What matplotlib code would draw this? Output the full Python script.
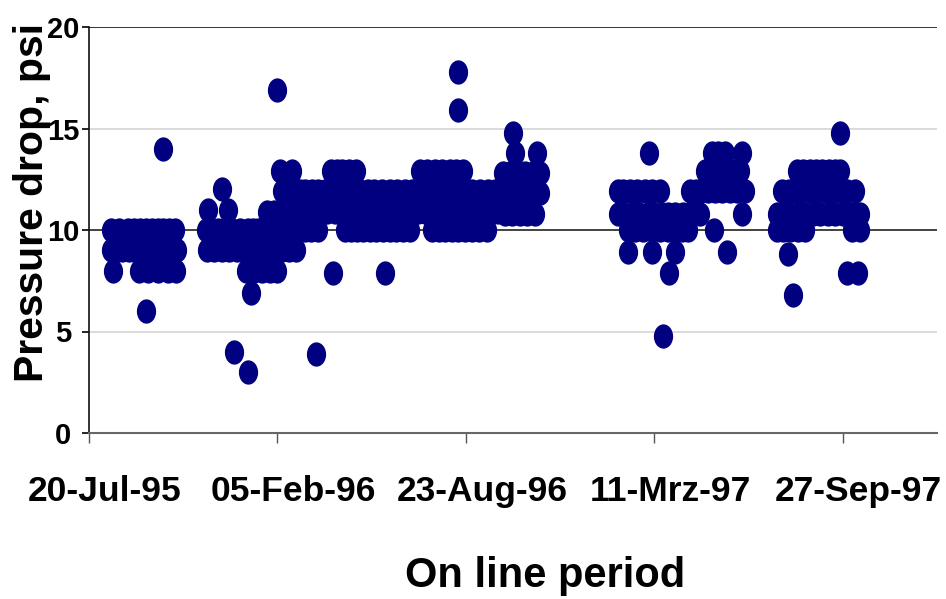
import numpy as np
import matplotlib
matplotlib.use('Agg')
import matplotlib.pyplot as plt
import matplotlib.transforms as mtransforms
from matplotlib.path import Path

# ---------------- data ----------------
start_date = np.datetime64('1995-07-20')
end_date = np.datetime64('1998-01-05')

# on-line days counted from 20-Jul-95, and pressure drop in psi
run1_days = [23, 32, 41, 48, 54, 60, 67, 73, 79, 85, 91,
             23, 29, 35, 42, 48, 54, 60, 67, 73, 79, 86, 93,
             25, 53, 63, 73, 84, 92,
             79, 60]
run1_psi = [10, 10, 10, 10, 10, 10, 10, 10, 10, 10, 10,
            9, 9, 9, 9, 9, 9, 9, 9, 9, 9, 9, 9,
            8, 8, 8, 8, 8, 8,
            14, 6]

run2_days = [203, 215,
             141, 205, 213, 220, 224,
             126, 147, 189, 196, 203, 211, 219,
             124, 130, 137, 144, 152, 160, 169, 174, 179, 186, 192, 200, 208, 215, 222,
             125, 133, 141, 149, 157, 165, 173, 181, 189, 197, 205, 212, 220,
             167, 175, 184, 192, 199,
             172, 154, 169, 199, 241, 259, 314, 392, 392,
             257, 263, 269, 276, 283, 351, 359, 367, 375, 383, 390, 397,
             229, 237, 243, 250, 256, 264, 272, 280, 288, 296, 303, 311, 319, 327,
             335, 343, 351, 359, 367, 375, 383, 391, 399, 407, 415, 423, 431,
             229, 237, 245, 253, 261, 269, 277, 285, 293, 301, 309, 317, 325, 333,
             341, 349, 357, 364, 372, 380, 388, 396, 404, 412, 420, 427, 434,
             229, 236, 243, 272, 278, 284, 291, 298, 305, 312, 319, 326, 333, 341,
             364, 371, 378, 385, 392, 399, 406, 414, 422,
             450, 452, 475,
             439, 447, 455, 463, 471, 479,
             436, 444, 452, 460, 468, 479,
             441, 449, 457, 465, 473]
run2_psi = [12.9, 12.9,
            12, 11.9, 11.9, 11.9, 11.9,
            11, 11, 10.9, 10.9, 10.9, 10.9, 10.9,
            10, 10, 10, 10, 10, 10, 10, 10, 10, 10, 10, 10, 10, 10, 10,
            9, 9, 9, 9, 9, 9, 9, 9, 9, 9, 9, 9, 9,
            8, 8, 8, 8, 8,
            6.9, 4, 3, 16.9, 3.9, 7.9, 7.9, 15.9, 17.8,
            12.9, 12.9, 12.9, 12.9, 12.9, 12.9, 12.9, 12.9, 12.9, 12.9, 12.9, 12.9,
            11.9, 11.9, 11.9, 11.9, 11.9, 11.9, 11.9, 11.9, 11.9, 11.9, 11.9, 11.9, 11.9, 11.9,
            11.9, 11.9, 11.9, 11.9, 11.9, 11.9, 11.9, 11.9, 11.9, 11.9, 11.9, 11.9, 11.9,
            10.9, 10.9, 10.9, 10.9, 10.9, 10.9, 10.9, 10.9, 10.9, 10.9, 10.9, 10.9, 10.9, 10.9,
            10.9, 10.9, 10.9, 10.9, 10.9, 10.9, 10.9, 10.9, 10.9, 10.9, 10.9, 10.9, 10.9,
            10, 10, 10, 10, 10, 10, 10, 10, 10, 10, 10, 10, 10, 10,
            10, 10, 10, 10, 10, 10, 10, 10, 10,
            14.8, 13.8, 13.8,
            12.8, 12.8, 12.8, 12.8, 12.8, 12.8,
            11.8, 11.8, 11.8, 11.8, 11.8, 11.8,
            10.8, 10.8, 10.8, 10.8, 10.8]

run3_days = [594, 661, 668, 675, 693,
             654, 661, 667, 674, 680, 686, 691,
             561, 567, 574, 582, 590, 598, 606, 638, 644, 650, 657, 664, 672, 680, 688, 696,
             561, 568, 576, 584, 593, 600, 608, 615, 622, 630, 638, 643, 648, 693,
             572, 580, 588, 597, 606, 614, 622, 629, 636, 663,
             572, 597, 622, 677, 616, 609]
run3_psi = [13.8, 13.8, 13.8, 13.8, 13.8,
            12.9, 12.9, 12.9, 12.9, 12.9, 12.9, 12.9,
            11.9, 11.9, 11.9, 11.9, 11.9, 11.9, 11.9, 11.9, 11.9, 11.9, 11.9, 11.9, 11.9, 11.9, 11.9, 11.9,
            10.8, 10.8, 10.8, 10.8, 10.8, 10.8, 10.8, 10.8, 10.8, 10.8, 10.8, 10.8, 10.8, 10.8,
            10, 10, 10, 10, 10, 10, 10, 10, 10, 10,
            8.9, 8.9, 8.9, 8.9, 7.9, 4.8]

run4_days = [797,
             751, 758, 765, 772, 778, 785, 792, 797,
             736, 743, 749, 757, 765, 773, 781, 789, 797, 805, 813,
             730, 737, 744, 752, 760, 768, 776, 784, 792, 800, 807, 813, 818,
             730, 737, 744, 752, 760, 810, 818,
             742, 747, 804, 816]
run4_psi = [14.8,
            12.9, 12.9, 12.9, 12.9, 12.9, 12.9, 12.9, 12.9,
            11.9, 11.9, 11.9, 11.9, 11.9, 11.9, 11.9, 11.9, 11.9, 11.9, 11.9,
            10.8, 10.8, 10.8, 10.8, 10.8, 10.8, 10.8, 10.8, 10.8, 10.8, 10.8, 10.8, 10.8,
            10, 10, 10, 10, 10, 10, 10,
            8.8, 6.8, 7.9, 7.9]

tick_dates = ['1995-07-20', '1996-02-05', '1996-08-23', '1997-03-11', '1997-09-27']
tick_labels = ['20-Jul-95', '05-Feb-96', '23-Aug-96', '11-Mrz-97', '27-Sep-97']
y_ticks = [0, 5, 10, 15, 20]

# ---------------- figure ----------------
plt.rcParams['font.family'] = ['Liberation Sans', 'DejaVu Sans']
plt.rcParams['font.weight'] = 'bold'

W, H = 946, 599
fig = plt.figure(figsize=(W / 100, H / 100), dpi=100)
ax = fig.add_axes([89 / W, 166 / H, 848 / W, 406 / H])

navy = '#000080'
ellipse = Path.unit_circle().transformed(mtransforms.Affine2D().scale(19 / 24, 1.0))

for d, p in [(run1_days, run1_psi), (run2_days, run2_psi),
             (run3_days, run3_psi), (run4_days, run4_psi)]:
    dates = start_date + np.array(d).astype('timedelta64[D]')
    ax.plot(dates, p, linestyle='none', marker=ellipse, markersize=17.5,
            markerfacecolor=navy, markeredgewidth=0, zorder=3)

ax.set_xlim(start_date, end_date)
ax.set_ylim(0, 20)

# gridlines
for yv, c in [(5, '#d4d4d4'), (15, '#d4d4d4'), (10, '#222222'), (20, '#111111')]:
    ax.axhline(yv, color=c, linewidth=1.2, zorder=1)

for s in ['top', 'right']:
    ax.spines[s].set_visible(False)
ax.spines['left'].set_color('#111111')
ax.spines['left'].set_linewidth(1.2)
ax.spines['bottom'].set_color('#666666')
ax.spines['bottom'].set_linewidth(1.5)

ax.set_xticks([np.datetime64(t) for t in tick_dates])
ax.set_xticklabels(tick_labels, fontsize=25.5, fontweight='bold')
ax.tick_params(axis='x', length=7.5, width=1.0, color='#555555', pad=23)
xt = ax.xaxis.get_major_ticks()
for i, t in enumerate(xt):
    if i >= 3:
        t.tick1line.set_color('#c8c8c8')
offset = mtransforms.ScaledTranslation(16 / 100, 0, fig.dpi_scale_trans)
for lab in ax.get_xticklabels():
    lab.set_transform(lab.get_transform() + offset)

ax.set_yticks(y_ticks)
ax.set_yticklabels([str(v) for v in y_ticks], fontsize=21, fontweight='bold')
ax.tick_params(axis='y', length=5, width=1.2, pad=13.5)
for lab in ax.get_yticklabels():
    lab.set_horizontalalignment('center')
yt = ax.yaxis.get_major_ticks()
for v, t in zip(y_ticks, yt):
    if v in (5, 15):
        t.tick1line.set_color('#c8c8c8')
    else:
        t.tick1line.set_color('#111111')

fig.text(32 / W, 1 - 203 / H, 'Pressure drop, psi', rotation=90,
         ha='center', va='center', fontsize=29.5, fontweight='bold')
fig.text(545 / W, 12 / H, 'On line period', ha='center', va='baseline',
         fontsize=30, fontweight='bold')

fig.savefig('out.png', dpi=100)
